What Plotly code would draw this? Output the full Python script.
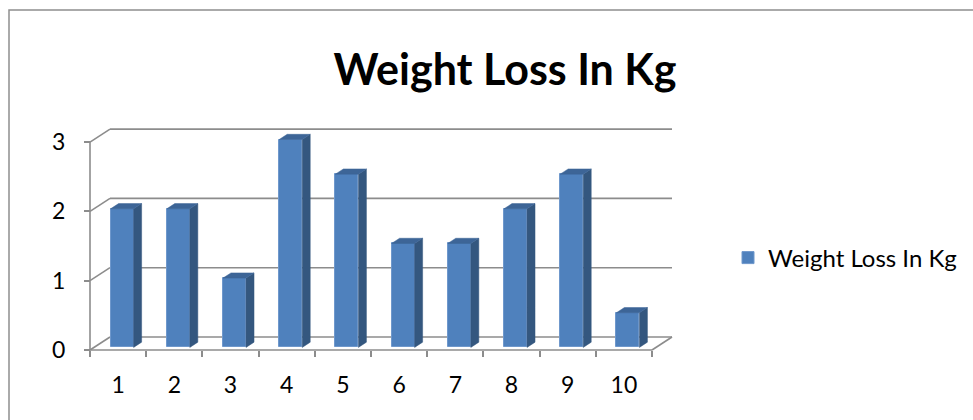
import plotly.graph_objects as go

# ---- data ----
categories = ["1", "2", "3", "4", "5", "6", "7", "8", "9", "10"]
weight_loss = [2, 2, 1, 3, 2.5, 1.5, 1.5, 2, 2.5, 0.5]
y_ticks = [0, 1, 2, 3]
series_name = "Weight Loss In Kg"
chart_title = "Weight Loss In Kg"

# ---- page / projection geometry ----
W, H = 973, 420
PX_X = 56.2          # pixels per category
PX_Y = 69.3          # pixels per kg
ORIGIN_X, ORIGIN_Y = 90, 350   # front corner of the floor (pixels)
WALL_DX = 20 / PX_X            # oblique depth offset of the back wall (data units)
WALL_DY = 13 / PX_Y
BAR_D0 = 0.2                   # depth of the bar front face (fraction of wall depth)
BAR_DEPTH = 0.4                # depth of a bar (fraction of wall depth)
BAR_W = 0.41

PLOT_L, PLOT_R, PLOT_T, PLOT_B = 84, 678, 124, 355
x_lo = 0.5 - (ORIGIN_X - PLOT_L) / PX_X
x_hi = 0.5 + (PLOT_R - ORIGIN_X) / PX_X
y_lo = -(PLOT_B - ORIGIN_Y) / PX_Y
y_hi = (ORIGIN_Y - PLOT_T) / PX_Y
plot_w = PLOT_R - PLOT_L
plot_h = PLOT_B - PLOT_T

n = len(categories)
pos = list(range(1, n + 1))
left_edge, right_edge = 0.5, n + 0.5

FRONT = "#4F81BD"
SIDE = "#34577f"
TOP = "#3d6597"
GRID = "#8c8c8c"
FONT = "Lato"

fig = go.Figure()

# front faces of the columns
bar_x = [p + WALL_DX * BAR_D0 for p in pos]
bar_base = WALL_DY * BAR_D0
fig.add_trace(go.Bar(
    x=bar_x, y=weight_loss, base=[bar_base] * n, width=BAR_W,
    name=series_name, marker=dict(color=FRONT, line=dict(color="#6f98cc", width=1)),
    showlegend=True, hoverinfo="skip",
))

# side and top faces of the columns (oblique projection)
ddx, ddy = WALL_DX * BAR_DEPTH, WALL_DY * BAR_DEPTH
side_x, side_y, top_x, top_y = [], [], [], []
for x, v in zip(bar_x, weight_loss):
    xl, xr = x - BAR_W / 2, x + BAR_W / 2
    b, t = bar_base, bar_base + v
    side_x += [xr, xr + ddx, xr + ddx, xr, xr, None]
    side_y += [b, b + ddy, t + ddy, t, b, None]
    top_x += [xl, xl + ddx, xr + ddx, xr, xl, None]
    top_y += [t, t + ddy, t + ddy, t, t, None]

fig.add_trace(go.Scatter(x=side_x, y=side_y, mode="lines", fill="toself",
                         fillcolor=SIDE, line=dict(color=SIDE, width=0.5),
                         showlegend=False, hoverinfo="skip"))
fig.add_trace(go.Scatter(x=top_x, y=top_y, mode="lines", fill="toself",
                         fillcolor=TOP, line=dict(color=TOP, width=0.5),
                         showlegend=False, hoverinfo="skip"))

# walls, floor and front axis lines
shapes = []
def seg(x0, y0, x1, y1):
    shapes.append(dict(type="line", xref="x", yref="y", x0=x0, y0=y0, x1=x1, y1=y1,
                       line=dict(color=GRID, width=1.6), layer="below"))

for v in y_ticks:
    seg(left_edge + WALL_DX, v + WALL_DY, right_edge + WALL_DX, v + WALL_DY)
    seg(left_edge, v, left_edge + WALL_DX, v + WALL_DY)
seg(left_edge, 0, left_edge, max(y_ticks))
seg(left_edge, 0, right_edge, 0)
seg(right_edge, 0, right_edge + WALL_DX, WALL_DY)

# chart frame
shapes.append(dict(type="rect", xref="paper", yref="paper",
                   x0=(9 - PLOT_L) / plot_w, x1=3, y0=-2, y1=(PLOT_B - 10) / plot_h,
                   line=dict(color="#8f8f8f", width=1.5), fillcolor="rgba(0,0,0,0)",
                   layer="below"))

fig.update_layout(
    width=W, height=H,
    margin=dict(l=PLOT_L, r=W - PLOT_R, t=PLOT_T, b=H - PLOT_B, pad=0),
    paper_bgcolor="white", plot_bgcolor="rgba(0,0,0,0)",
    shapes=shapes,
    title=dict(text="<b>" + chart_title + "</b>", x=505 / W, xref="container",
               xanchor="center", y=1 - 70 / H, yref="container", yanchor="middle",
               font=dict(family=FONT, size=43, color="black")),
    xaxis=dict(range=[x_lo, x_hi], tickvals=pos, ticktext=categories,
               ticks="", showline=False, showgrid=False, zeroline=False,
               anchor="free", position=(PLOT_B - ORIGIN_Y) / plot_h,
               ticklabelstandoff=19,
               tickfont=dict(family=FONT, size=23, color="black"),
               minor=dict(tickvals=[p - 0.5 for p in pos] + [right_edge],
                          ticks="outside", ticklen=6, tickwidth=1.6, tickcolor=GRID)),
    yaxis=dict(range=[y_lo, y_hi], tickvals=y_ticks, ticks="outside", ticklen=6,
               tickwidth=1.6, tickcolor=GRID, showline=False, showgrid=False,
               zeroline=False, anchor="free", position=(ORIGIN_X - PLOT_L) / plot_w,
               ticklabelstandoff=14,
               tickfont=dict(family=FONT, size=23, color="black")),
    legend=dict(x=728 / W, xref="container", xanchor="left", y=1 - 258 / H,
                yref="container", yanchor="middle", bgcolor="rgba(0,0,0,0)",
                font=dict(family=FONT, size=24, color="black")),
    bargap=0,
)

fig.write_html("out.html")
